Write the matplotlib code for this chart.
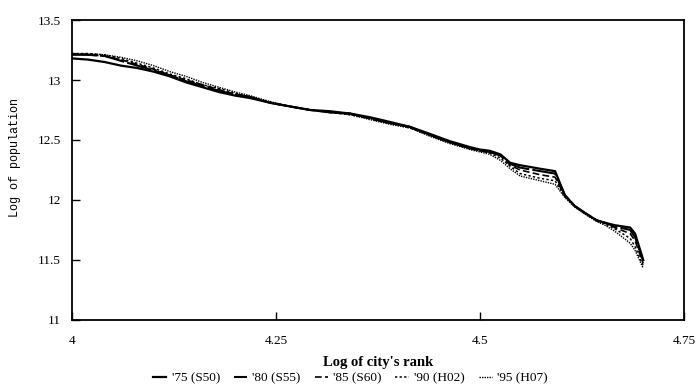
import matplotlib.pyplot as plt
from matplotlib.lines import Line2D

# log of city's rank (shared grid)
log_rank = [4.000, 4.020, 4.040, 4.060, 4.080, 4.100, 4.120, 4.140, 4.160, 4.180,
            4.200, 4.218, 4.243, 4.267, 4.292, 4.316, 4.341, 4.365, 4.390, 4.414,
            4.439, 4.463, 4.488, 4.500, 4.512, 4.525, 4.537, 4.549, 4.574, 4.592,
            4.604, 4.616, 4.629, 4.643, 4.653, 4.665, 4.684, 4.690, 4.700]

# log of population per survey year
pop_75 = [13.18, 13.17, 13.15, 13.12, 13.10, 13.07, 13.03, 12.98, 12.94, 12.90,
          12.87, 12.85, 12.81, 12.78, 12.75, 12.74, 12.72, 12.69, 12.65, 12.61,
          12.55, 12.49, 12.44, 12.42, 12.41, 12.38, 12.31, 12.29, 12.26, 12.24,
          12.04, 11.95, 11.89, 11.83, 11.81, 11.79, 11.77, 11.72, 11.50]
pop_80 = [13.21, 13.21, 13.20, 13.16, 13.12, 13.08, 13.04, 12.99, 12.95, 12.91,
          12.88, 12.86, 12.81, 12.78, 12.75, 12.73, 12.72, 12.68, 12.64, 12.61,
          12.54, 12.48, 12.43, 12.41, 12.40, 12.37, 12.30, 12.27, 12.24, 12.22,
          12.04, 11.95, 11.89, 11.83, 11.81, 11.78, 11.75, 11.69, 11.49]
pop_85 = [13.22, 13.21, 13.20, 13.17, 13.13, 13.09, 13.04, 13.00, 12.96, 12.92,
          12.88, 12.86, 12.81, 12.78, 12.75, 12.73, 12.72, 12.68, 12.64, 12.61,
          12.54, 12.48, 12.43, 12.41, 12.40, 12.37, 12.29, 12.25, 12.21, 12.19,
          12.03, 11.95, 11.89, 11.83, 11.81, 11.77, 11.72, 11.66, 11.47]
pop_90 = [13.22, 13.22, 13.21, 13.18, 13.14, 13.10, 13.05, 13.01, 12.96, 12.93,
          12.89, 12.86, 12.81, 12.78, 12.75, 12.73, 12.71, 12.68, 12.64, 12.60,
          12.54, 12.48, 12.43, 12.41, 12.39, 12.35, 12.28, 12.22, 12.18, 12.16,
          12.03, 11.95, 11.89, 11.83, 11.80, 11.76, 11.68, 11.61, 11.45]
pop_95 = [13.22, 13.22, 13.21, 13.19, 13.16, 13.12, 13.07, 13.03, 12.98, 12.94,
          12.90, 12.87, 12.82, 12.78, 12.75, 12.73, 12.71, 12.67, 12.63, 12.60,
          12.53, 12.47, 12.42, 12.40, 12.38, 12.33, 12.26, 12.20, 12.16, 12.13,
          12.02, 11.94, 11.88, 11.82, 11.79, 11.74, 11.64, 11.58, 11.43]

labels = ["'75 (S50)", "'80 (S55)", "'85 (S60)", "'90 (H02)", "'95 (H07)"]
styles = [("-", 1.6), ((0, (12, 1.5)), 1.5), ((0, (4, 2)), 1.2),
          ((0, (1.5, 1.5)), 1.1), ((0, (1, 0.8)), 1.0)]

x_ticks = [4, 4.25, 4.5, 4.75]
y_ticks = [11, 11.5, 12, 12.5, 13, 13.5]

serif = ["Liberation Serif", "DejaVu Serif"]

fig = plt.figure(figsize=(6.98, 3.85), dpi=100)
ax = fig.add_axes([0.103, 0.169, 0.877, 0.779])

for ys, lab, (ls, lw) in zip([pop_75, pop_80, pop_85, pop_90, pop_95], labels, styles):
    ax.plot(log_rank, ys, color="black", linestyle=ls, linewidth=lw, label=lab)

ax.set_xlim(4, 4.75)
ax.set_ylim(11, 13.5)
ax.set_xticks(x_ticks)
ax.set_xticklabels(["4", "4.25", "4.5", "4.75"], family=serif, fontsize=9.5)
ax.set_yticks(y_ticks)
ax.set_yticklabels(["11", "11.5", "12", "12.5", "13", "13.5"], family=serif, fontsize=9.5)
ax.tick_params(direction="in", length=6, width=1)
ax.tick_params(axis="y", pad=8)
ax.tick_params(axis="x", pad=11)
for sp in ax.spines.values():
    sp.set_linewidth(1.3)

ax.set_xlabel("Log of city's rank", family=serif, fontsize=10.5, fontweight="bold", labelpad=6)
fig.text(0.022, 0.59, "Log of population", rotation=90, family="Liberation Mono",
         fontsize=8.5, ha="center", va="center")

handles = [Line2D([0], [0], color="black", linestyle=ls, linewidth=lw) for ls, lw in styles]
fig.legend(handles, labels, loc="center", bbox_to_anchor=(0.502, 0.018), ncol=5,
           frameon=False, prop={"family": serif, "size": 9.5}, handlelength=1.0,
           handletextpad=0.4, columnspacing=1.05)

fig.savefig("out.png", dpi=100)
